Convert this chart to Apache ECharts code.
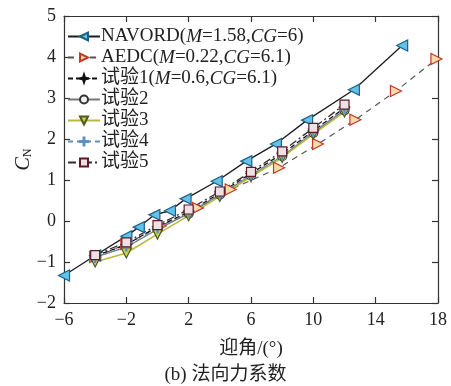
<!DOCTYPE html>
<html><head><meta charset="utf-8">
<script src="https://cdn.jsdelivr.net/npm/echarts@6/dist/echarts.min.js"></script>
<style>html,body{margin:0;padding:0;background:#fff}#c{width:451px;height:386px}</style>
</head><body><div id="c"></div>
<script>
// Data
const navordAngle = [-6, -4, -2, -1.2, -0.2, 0.8, 1.8, 3.8, 5.7, 7.6, 9.6, 12.6, 15.7];
const navordCN    = [-1.33, -0.84, -0.37, -0.15, 0.15, 0.25, 0.54, 0.97, 1.46, 1.88, 2.46, 3.2, 4.28];
const aedcAngle = [-4, -2, 0.2, 2.6, 4.7, 7.8, 10.3, 12.7, 15.3, 17.9];
const aedcCN    = [-0.88, -0.56, -0.12, 0.32, 0.77, 1.3, 1.88, 2.47, 3.17, 3.95];
const testAngle = [-4, -2, 0, 2, 4, 6, 8, 10, 12];
const test1CN = [-0.85, -0.58, -0.14, 0.22, 0.68, 1.16, 1.64, 2.2, 2.76];
const test2CN = [-0.88, -0.64, -0.2, 0.18, 0.64, 1.11, 1.58, 2.15, 2.7];
const test3CN = [-1.0, -0.78, -0.32, 0.13, 0.6, 1.08, 1.55, 2.12, 2.66];
const test4CN = [-0.9, -0.62, -0.18, 0.2, 0.66, 1.13, 1.6, 2.18, 2.72];
const test5CN = [-0.83, -0.52, -0.1, 0.28, 0.72, 1.2, 1.7, 2.27, 2.84];
const xTicks = [-6, -2, 2, 6, 10, 14, 18];
const yTicks = [-2, -1, 0, 1, 2, 3, 4, 5];
const names = ['NAVORD', 'AEDC', '试验1', '试验2', '试验3', '试验4', '试验5'];

const pair = (xs, ys) => xs.map((x, i) => [x, ys[i]]);
const serif = '"Liberation Serif","DejaVu Serif",serif';
const cjk = '"Liberation Serif","Noto Sans CJK SC",serif';

const chart = echarts.init(document.getElementById('c'), null, {renderer: 'canvas'});
const baseLine = (name, data, color, type, width, symbol, size, fill, border, rot) => ({
  name, type: 'line', data, xAxisIndex: 0, yAxisIndex: 0,
  lineStyle: {color, type, width}, symbol, symbolSize: size, symbolRotate: rot || 0,
  itemStyle: {color: fill, borderColor: border, borderWidth: 1.2},
  showAllSymbol: true, animation: false, z: 3
});
const star = 'path://M0,-10L2.5,-2.5L10,0L2.5,2.5L0,10L-2.5,2.5L-10,0L-2.5,-2.5Z';
const plus = 'path://M-10,-1.2H10V1.2H-10Z M-1.2,-10H1.2V10H-1.2Z';
const rich = {
  n: {fontFamily: cjk, fontSize: 19, color: '#222'},
  i: {fontFamily: serif, fontStyle: 'italic', fontSize: 19, color: '#222'}
};
const legendLabels = {
  'NAVORD': '{n|NAVORD(}{i|M}{n|=1.58,}{i|CG}{n|=6)}',
  'AEDC': '{n|AEDC(}{i|M}{n|=0.22,}{i|CG}{n|=6.1)}',
  '试验1': '{n|试验1(}{i|M}{n|=0.6,}{i|CG}{n|=6.1)}'
};
const axisCommon = {
  axisLine: {onZero: false, lineStyle: {color: '#333', width: 1.2}},
  axisTick: {inside: true, length: 6, lineStyle: {color: '#333', width: 1.2}},
  splitLine: {show: false}
};
chart.setOption({
  animation: false,
  grid: {left: 64, right: 13, top: 16, bottom: 83},
  legend: {
    data: names, orient: 'vertical', left: 62, top: 22, itemGap: 2,
    itemWidth: 32, itemHeight: 10,
    formatter: n => legendLabels[n] || ('{n|' + n + '}'),
    textStyle: {rich, fontSize: 19, padding: [0, 0, 0, -4]},
    backgroundColor: 'transparent'
  },
  xAxis: [
    Object.assign({type: 'value', min: -6, max: 18, interval: 4, position: 'bottom',
      name: '迎角/(°)', nameLocation: 'middle', nameGap: 37,
      nameTextStyle: {fontFamily: cjk, fontSize: 19, color: '#222'},
      axisLabel: {fontFamily: serif, fontSize: 18, color: '#222', margin: 8,
        formatter: v => (v < 0 ? '\u2212' + Math.abs(v) : '' + v)}}, axisCommon),
    Object.assign({type: 'value', min: -6, max: 18, interval: 4, position: 'top',
      axisLabel: {show: false}}, axisCommon)
  ],
  yAxis: [
    Object.assign({type: 'value', min: -2, max: 5, interval: 1, position: 'left',
      name: '{c|C}{s|N}', nameLocation: 'middle', nameGap: 30, nameRotate: 90,
      nameMoveOverlap: false,
      nameTextStyle: {rich: {
        c: {fontFamily: serif, fontStyle: 'italic', fontSize: 20, color: '#222'},
        s: {fontFamily: serif, fontSize: 12, color: '#222', verticalAlign: 'bottom', padding: [8, 0, 0, 0]}}},
      axisLabel: {fontFamily: serif, fontSize: 18, color: '#222', margin: 8,
        formatter: v => (v < 0 ? '\u2212' + Math.abs(v) : '' + v)}}, axisCommon),
    Object.assign({type: 'value', min: -2, max: 5, interval: 1, position: 'right',
      axisLabel: {show: false}}, axisCommon)
  ],
  title: {text: '(b) 法向力系数', left: 'center', bottom: 1, padding: 0,
    textStyle: {fontFamily: cjk, fontSize: 19, fontWeight: 'normal', color: '#222'}},
  series: [
    baseLine('NAVORD', pair(navordAngle, navordCN), '#1b1b22', 'solid', 1.3, 'triangle', 11, '#62c3ea', '#1e5f86', 90),
    baseLine('AEDC', pair(aedcAngle, aedcCN), '#555', [6, 5], 1.2, 'triangle', 11, '#f8dca8', '#c0392b', -90),
    baseLine('试验1', pair(testAngle, test1CN), '#111', [5, 3], 1.3, star, 9, '#111', '#111', 0),
    baseLine('试验2', pair(testAngle, test2CN), '#777', 'solid', 1.3, 'circle', 9, '#f2f2f2', '#333', 0),
    baseLine('试验3', pair(testAngle, test3CN), '#b9b83e', 'solid', 1.6, 'triangle', 10, '#c9d24e', '#4d5a1e', 180),
    baseLine('试验4', pair(testAngle, test4CN), '#5d8fc2', [5, 4], 1, plus, 9, '#5d8fc2', '#5d8fc2', 0),
    baseLine('试验5', pair(testAngle, test5CN), '#3a2a30', [8, 3, 2, 3], 1.3, 'rect', 9, '#efe0e4', '#5a1c2c', 0)
  ]
});
</script></body></html>
